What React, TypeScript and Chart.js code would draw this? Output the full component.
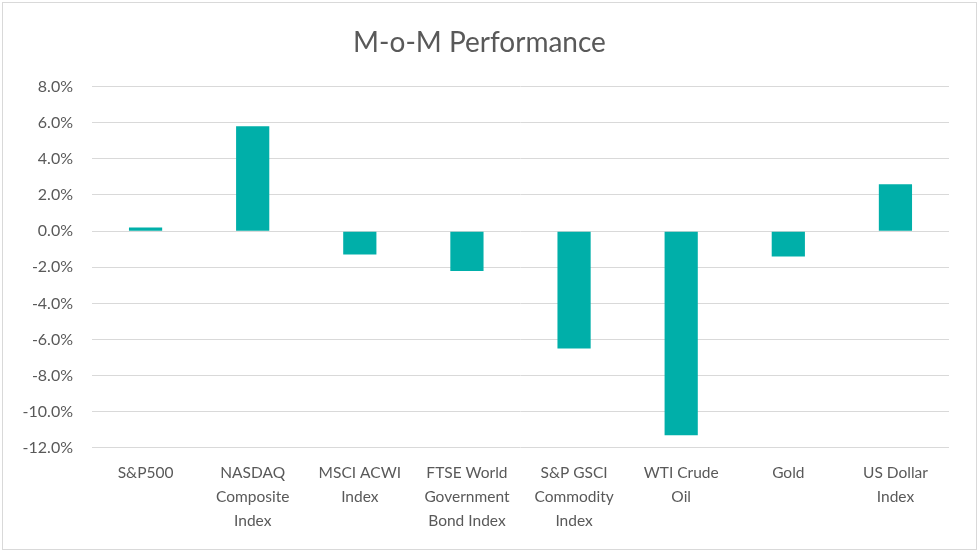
import React, { useEffect, useRef } from "react";
import { Chart, registerables } from "chart.js";

Chart.register(...registerables);

const categories: string[][] = [
  ["S&P500"],
  ["NASDAQ", "Composite", "Index"],
  ["MSCI ACWI", "Index"],
  ["FTSE World", "Government", "Bond Index"],
  ["S&P GSCI", "Commodity", "Index"],
  ["WTI Crude", "Oil"],
  ["Gold"],
  ["US Dollar", "Index"],
];
const momPerformance: number[] = [0.2, 5.8, -1.3, -2.2, -6.5, -11.3, -1.4, 2.6];
const titleText = "M-o-M Performance";
const yMin = -12;
const yMax = 8;
const yStep = 2;

const FONT = 'Lato, "Open Sans", sans-serif';
const TEXT = "#595959";

export default function App() {
  const ref = useRef<HTMLCanvasElement | null>(null);
  useEffect(() => {
    if (!ref.current) return;
    const chart = new Chart(ref.current, {
      type: "bar",
      data: {
        labels: categories,
        datasets: [
          {
            data: momPerformance,
            backgroundColor: "#00AFA9",
            barPercentage: 0.62,
            categoryPercentage: 0.5,
          },
        ],
      },
      options: {
        animation: false,
        responsive: false,
        layout: { padding: { left: 10, right: 30, top: 0, bottom: 14 } },
        plugins: {
          legend: { display: false },
          tooltip: { enabled: false },
          title: {
            display: true,
            text: titleText,
            color: TEXT,
            font: { family: FONT, size: 28, weight: "normal", lineHeight: 1.2 },
            padding: { top: 26, bottom: 27 },
          },
        },
        scales: {
          x: {
            grid: { display: false },
            border: { display: false },
            ticks: {
              color: TEXT,
              font: { family: FONT, size: 15.5, lineHeight: 1.55 },
              maxRotation: 0,
              autoSkip: false,
              padding: 5,
            },
          },
          y: {
            min: yMin,
            max: yMax,
            grid: { color: "#d9d9d9", lineWidth: 1, drawTicks: false },
            border: { display: false },
            ticks: {
              stepSize: yStep,
              color: TEXT,
              font: { family: FONT, size: 16 },
              padding: 19,
              callback: (v: any) => Number(v).toFixed(1) + "%",
            },
            afterFit: (scale: any) => {
              scale.width = 82;
            },
          },
        },
      },
    });
    return () => chart.destroy();
  }, []);
  return (
    <div style={{ position: "fixed", left: 0, top: 0, width: 979, height: 552, background: "#fff" }}>
      <canvas ref={ref} width={979} height={552} style={{ position: "absolute", left: 0, top: 0 }} />
      <div
        style={{
          position: "absolute",
          left: 2,
          top: 2,
          width: 973,
          height: 546,
          border: "1px solid #d9d9d9",
          pointerEvents: "none",
        }}
      />
    </div>
  );
}
